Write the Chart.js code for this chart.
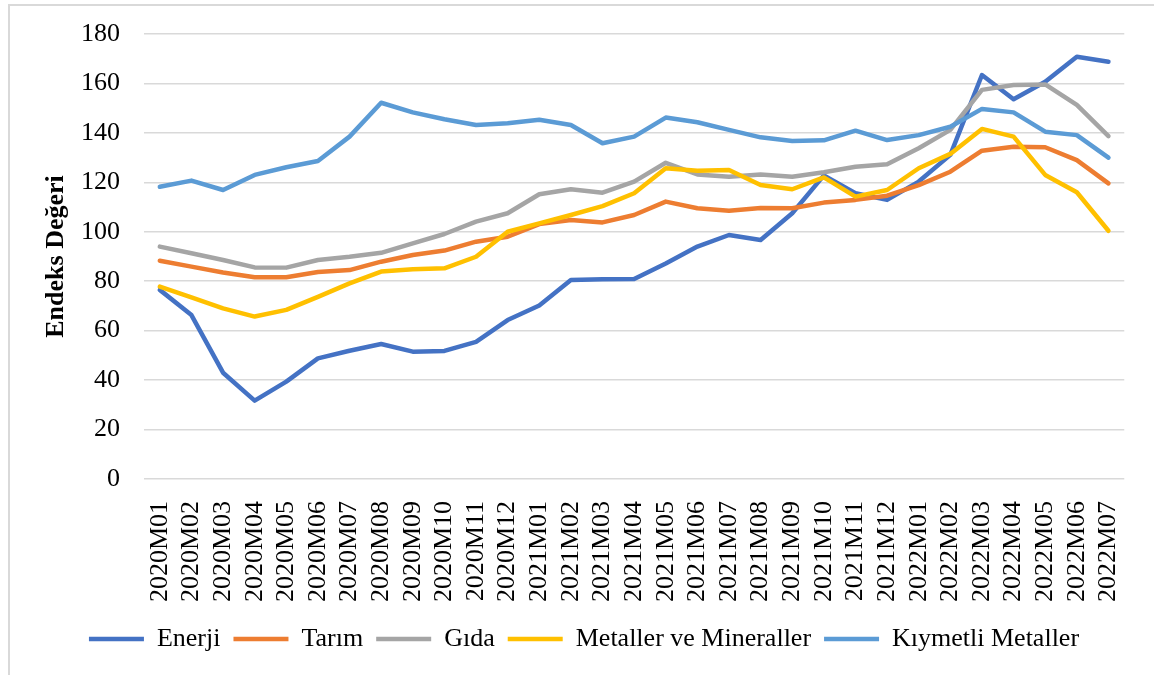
<!DOCTYPE html>
<html>
<head>
<meta charset="utf-8">
<script src="https://cdn.jsdelivr.net/npm/chart.js@4"></script>
<style>
    html, body { margin: 0; padding: 0; background: #fff; overflow: hidden; }
    #frame { position: absolute; left: 8px; top: 4px; width: 1200px; height: 720px; border: 2px solid #d9d9d9; }
    #wrap { position: absolute; left: 0; top: 0; width: 1154px; height: 675px; }
</style>
</head>
<body>
<div id="frame"></div>
<div id="wrap"><canvas id="chart"></canvas></div>
<script>
const months = [
    "2020M01", "2020M02", "2020M03", "2020M04", "2020M05", "2020M06", "2020M07", "2020M08",
    "2020M09", "2020M10", "2020M11", "2020M12", "2021M01", "2021M02", "2021M03", "2021M04",
    "2021M05", "2021M06", "2021M07", "2021M08", "2021M09", "2021M10", "2021M11", "2021M12",
    "2022M01", "2022M02", "2022M03", "2022M04", "2022M05", "2022M06", "2022M07"
];

const enerji = [76.5, 66.3, 43.0, 31.7, 39.4, 48.8, 51.9, 54.6, 51.5, 51.8, 55.5, 64.3,
    70.2, 80.5, 80.8, 80.9, 87.2, 94.0, 98.7, 96.7, 107.5, 122.8, 115.6, 112.9,
    120.3, 131.1, 163.4, 153.6, 160.7, 170.8, 168.8];
const tarim = [88.3, 85.9, 83.5, 81.6, 81.6, 83.7, 84.5, 87.9, 90.6, 92.4, 96.0, 98.0,
    103.1, 104.8, 103.8, 106.8, 112.2, 109.5, 108.5, 109.6, 109.5, 111.8, 112.9, 114.6,
    118.9, 124.3, 132.8, 134.4, 134.2, 129.0, 119.6];
const gida = [94.0, 91.3, 88.6, 85.6, 85.5, 88.6, 89.9, 91.5, 95.3, 99.1, 104.1, 107.5,
    115.2, 117.2, 115.8, 120.3, 127.9, 123.2, 122.3, 123.2, 122.3, 124.1, 126.3, 127.3,
    133.8, 141.2, 157.4, 159.4, 159.6, 151.3, 138.7];
const metaller = [77.8, 73.5, 69.0, 65.7, 68.4, 73.7, 79.1, 83.9, 84.8, 85.2, 89.9, 100.0,
    103.4, 106.8, 110.4, 115.6, 125.7, 124.7, 125.0, 118.9, 117.2, 122.0, 114.2, 116.9,
    125.7, 131.5, 141.6, 138.5, 123.0, 116.0, 100.4];
const kiymetli = [118.2, 120.7, 116.9, 123.0, 126.1, 128.6, 138.5, 152.2, 148.3, 145.5, 143.2, 143.9,
    145.3, 143.2, 135.8, 138.5, 146.2, 144.3, 141.2, 138.2, 136.7, 137.0, 140.9, 137.1,
    139.1, 142.5, 149.7, 148.3, 140.5, 139.1, 130.0];

const serif = "'Liberation Serif', 'Times New Roman', serif";

function series(label, data, color, order) {
    return {
        label: label,
        data: data,
        borderColor: color,
        backgroundColor: color,
        borderWidth: 4.5,
        borderCapStyle: "round",
        borderJoinStyle: "round",
        pointRadius: 0,
        tension: 0,
        order: order,
    };
}

// legend is centred on the whole canvas in the original, not on the padded box
const shiftLegend = {
    id: "shiftLegend",
    afterLayout(chart) {
        chart.legend.left += 18;
        chart.legend.right += 18;
    },
};

new Chart(document.getElementById("chart"), {
    type: "line",
    data: {
        labels: months,
        datasets: [
            series("Enerji", enerji, "#4472C4", 5),
            series("Tarım", tarim, "#ED7D31", 4),
            series("Gıda", gida, "#A5A5A5", 3),
            series("Metaller ve Mineraller", metaller, "#FFC000", 2),
            series("Kıymetli Metaller", kiymetli, "#5B9BD5", 1),
        ],
    },
    plugins: [shiftLegend],
    options: {
        responsive: true,
        maintainAspectRatio: false,
        animation: false,
        layout: { padding: { top: 34, right: 22, bottom: 13, left: 0 } },
        plugins: {
            tooltip: { enabled: false },
            legend: {
                position: "bottom",
                labels: {
                    usePointStyle: true,
                    pointStyle: "line",
                    pointStyleWidth: 55,
                    padding: 13,
                    color: "#000",
                    font: { family: serif, size: 26 },
                    sort: (a, b) => a.datasetIndex - b.datasetIndex,
                },
            },
        },
        scales: {
            x: {
                offset: true,
                grid: { display: false },
                border: { display: false },
                ticks: {
                    autoSkip: false,
                    maxRotation: 90,
                    minRotation: 90,
                    padding: 14,
                    color: "#000",
                    font: { family: serif, size: 26 },
                },
                afterFit: s => { s.height = 134; },
            },
            y: {
                min: 0,
                max: 180,
                ticks: {
                    stepSize: 20,
                    padding: 5,
                    color: "#000",
                    font: { family: serif, size: 26 },
                },
                grid: {
                    color: "#d9d9d9",
                    lineWidth: 1.5,
                    drawTicks: true,
                    tickLength: 19,
                    tickColor: "rgba(0,0,0,0)",
                },
                border: { display: false },
                title: {
                    display: true,
                    text: "Endeks Değeri",
                    color: "#000",
                    font: { family: serif, size: 26, weight: "bold" },
                    padding: { top: 41, bottom: 0 },
                },
                afterFit: s => { s.width = 144; },
            },
        },
    },
});
</script>
</body>
</html>
